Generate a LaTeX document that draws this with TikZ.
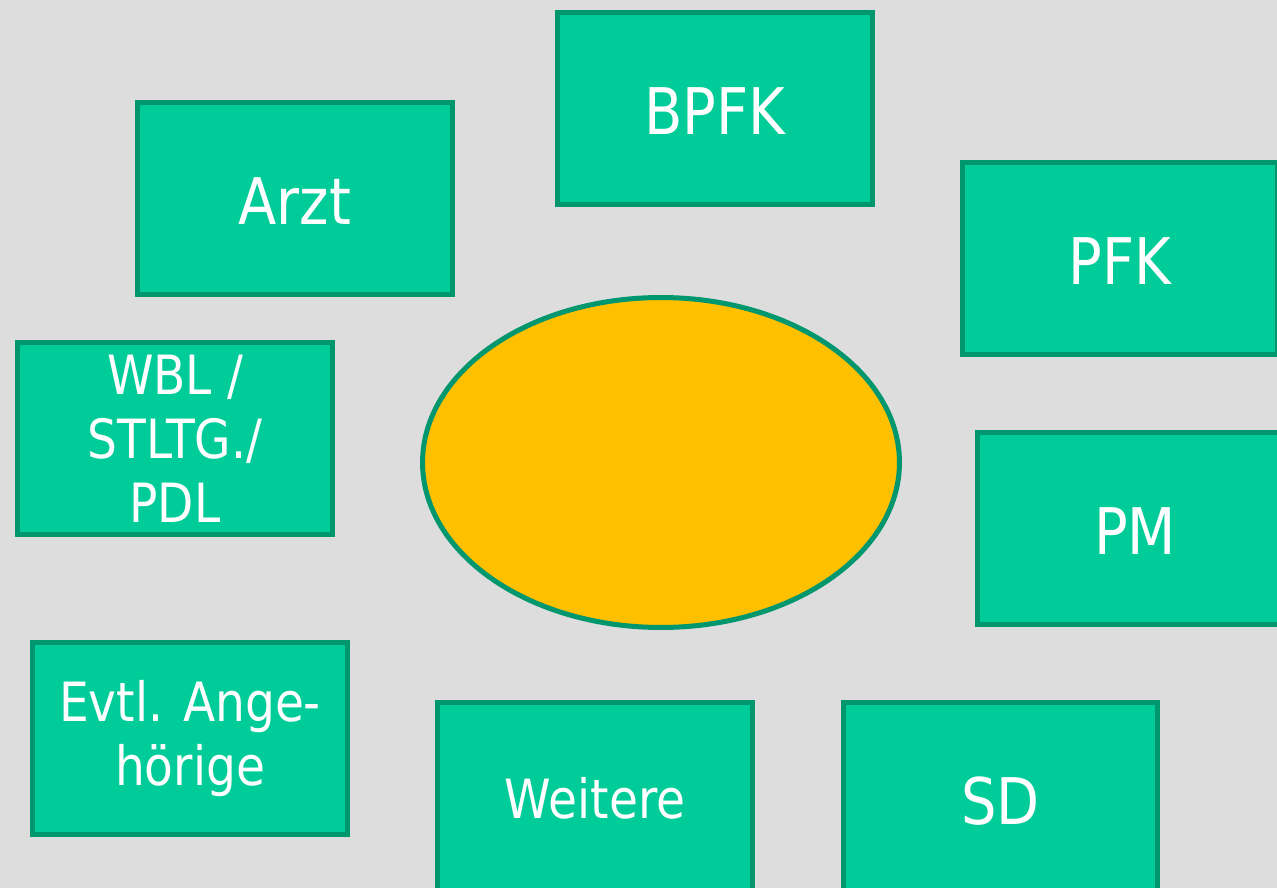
\documentclass[tikz,border=0pt]{standalone}
\usepackage{fontspec}
\setmainfont[FakeStretch=0.87]{DejaVu Sans}
\usetikzlibrary{shapes.geometric}
\definecolor{boxgreen}{HTML}{00CC99}
\definecolor{rimgreen}{HTML}{00966E}
\definecolor{paper}{HTML}{DDDDDD}
\definecolor{yolk}{HTML}{FFC000}
\tikzset{
  team/.style={draw=rimgreen, fill=boxgreen, line width=2.85pt, text=white,
    minimum width=6.3cm, minimum height=3.84cm, inner sep=0pt,
    text height=30pt, text depth=0pt,
    font=\fontsize{36.6}{44}\selectfont},
  smallteam/.style={team, align=center, text height=, text depth=,
    font=\fontsize{30.8}{36.3}\selectfont}
}

\begin{document}
\begin{tikzpicture}[x=0.02cm, y=-0.02cm]
  \fill[paper] (0, 0) rectangle (1277, 888);
  \useasboundingbox (0, 0) rectangle (1277, 888);
  \clip (0, 0) rectangle (1277, 888);

  \node[team] (bpfk) at (715, 108.5) {BPFK};
  \node[team] (arzt) at (295, 198.5) {Arzt};
  \node[team] (pfk) at (1120, 258.5) {PFK};
  \node[team] (pm) at (1135, 528.5) {PM};
  \node[smallteam] (wbl) at (175, 438.5) {WBL /\\STLTG./\\PDL};
  \node[smallteam] (angeh) at (190, 738.5) {Evtl. Ange-\\hörige};
  \node[smallteam] (weitere) at (595, 798.5) {Weitere};
  \node[team] (sd) at (1000.5, 798.5) {SD};

  \node[ellipse, draw=rimgreen, fill=yolk, line width=2.85pt, inner sep=0pt,
    minimum width=9.54cm, minimum height=6.6cm] (client) at (661, 462.5) {};
\end{tikzpicture}
\end{document}
